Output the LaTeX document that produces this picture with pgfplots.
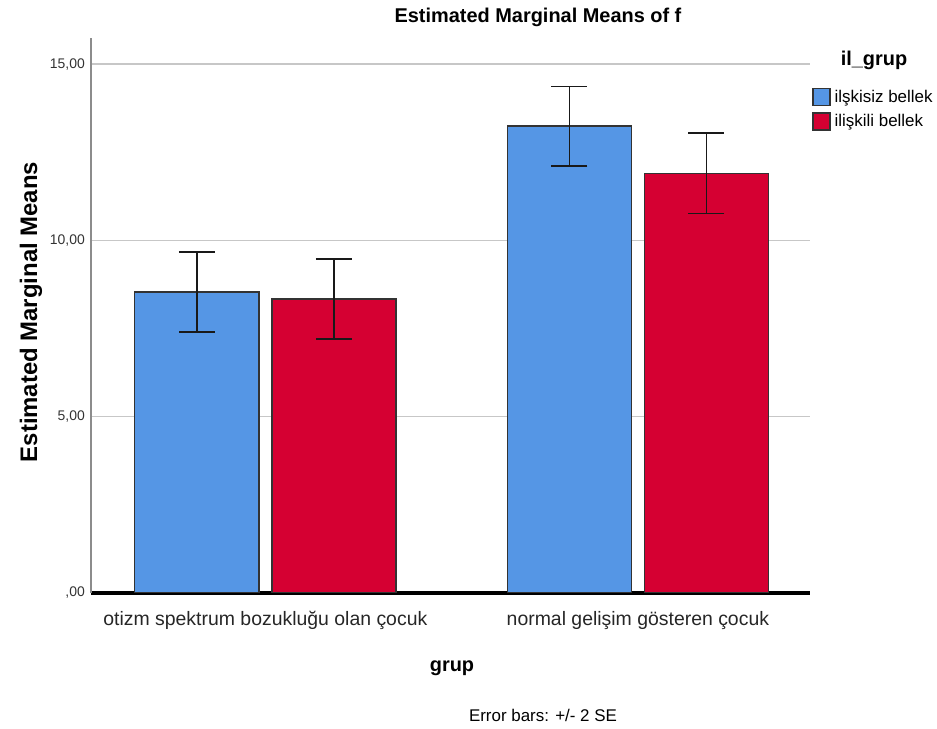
\documentclass[border=0pt]{standalone}
\usepackage{fontspec}
\setmainfont{Liberation Sans}
\usepackage{pgfplots}
\pgfplotsset{compat=1.18}
\definecolor{cblue}{RGB}{85,150,229}
\definecolor{cred}{RGB}{213,0,50}
\begin{document}
\begin{tikzpicture}
\useasboundingbox (0,0) rectangle (937bp,729bp);
\begin{axis}[
  at={(91bp,136bp)}, anchor=south west,
  scale only axis, width=719bp, height=555bp,
  xmin=-0.468, xmax=1.462, ymin=0, ymax=15.74,
  axis x line=bottom, axis y line=left,
  x axis line style={-, line width=4bp, black},
  y axis line style={-, line width=1.5bp, black!45},
  xtick={0,1},
  xticklabels={otizm spektrum bozukluğu olan çocuk, normal gelişim gösteren çocuk},
  xticklabel style={font=\fontsize{19.5}{22}\selectfont, anchor=base, yshift=-33bp, color=black!85},
  major tick length=0pt,
  ytick={0,5,10,15},
  yticklabels={{,00},{5,00},{10,00},{15,00}},
  yticklabel style={font=\fontsize{14}{16}\selectfont, anchor=east, inner sep=0pt, xshift=-6bp, color=black!80},
  ymajorgrids, major grid style={line width=1.2bp, black!22},
  legend style={at={(1.003,0.910)}, anchor=north west, draw=none, fill=none, inner sep=0pt,
    font=\fontsize{17}{20}\selectfont, row sep=6bp, nodes={inner sep=1.5bp}},
  legend cell align=left,
]
\addplot[ybar, bar width=0.333, bar shift=0pt, fill=cblue, draw=black!80, line width=1.4bp,
  legend image code/.code={\draw[fill=cblue,draw=black!80,line width=1.2bp] (4.5bp,-8.5bp) rectangle (21.5bp,8.5bp); \path (24bp,0bp);},
  error bars/.cd, y dir=both, y explicit,
  error bar style={black!90, line width=1.4bp},
  error mark options={rotate=90, black!90, line width=1.4bp, mark size=18bp}]
  coordinates {(-0.184,8.535) +- (0,1.135) (0.816,13.24) +- (0,1.13)};
\addlegendentry{ilşkisiz bellek}
\addplot[ybar, bar width=0.333, bar shift=0pt, fill=cred, draw=black!80, line width=1.4bp,
  legend image code/.code={\draw[fill=cred,draw=black!80,line width=1.2bp] (4.5bp,-8.5bp) rectangle (21.5bp,8.5bp); \path (24bp,0bp);},
  error bars/.cd, y dir=both, y explicit,
  error bar style={black!90, line width=1.4bp},
  error mark options={rotate=90, black!90, line width=1.4bp, mark size=18bp}]
  coordinates {(0.184,8.335) +- (0,1.135) (1.184,11.905) +- (0,1.135)};
\addlegendentry{ilişkili bellek}
\end{axis}
\node[font=\bfseries\fontsize{20}{24}\selectfont] at (538bp,712bp) {Estimated Marginal Means of f};
\node[rotate=90, font=\bfseries\fontsize{24}{28}\selectfont] at (31bp,417bp) {Estimated Marginal Means};
\node[font=\bfseries\fontsize{20}{24}\selectfont] at (452bp,61bp) {grup};
\node[font=\fontsize{17}{20}\selectfont] at (543bp,14bp) {Error bars: +/- 2 SE};
\node[font=\bfseries\fontsize{20}{24}\selectfont] at (874bp,669bp) {il\_grup};
\end{tikzpicture}
\end{document}
